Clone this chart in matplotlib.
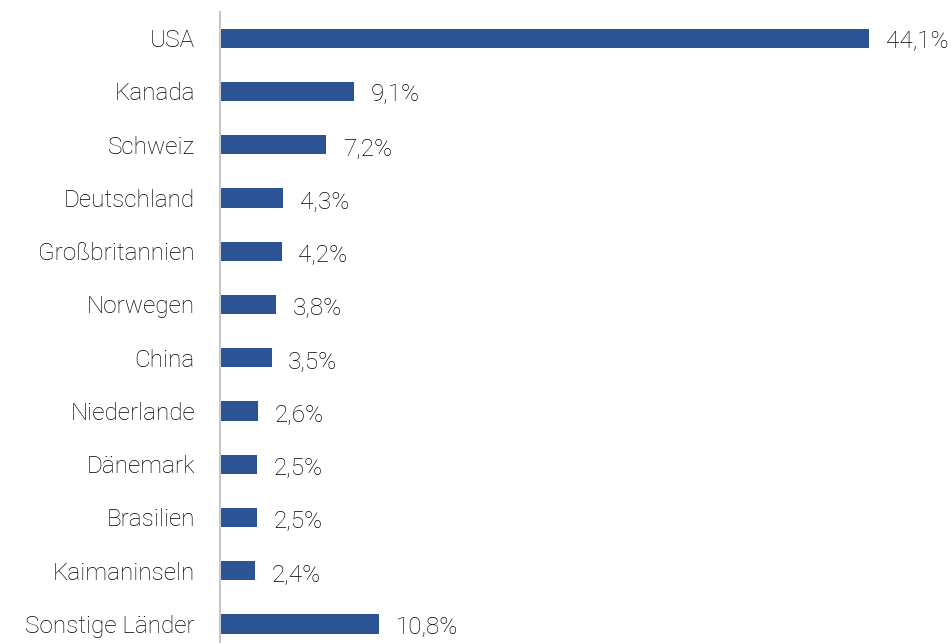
import matplotlib
matplotlib.use("Agg")
import matplotlib.pyplot as plt

plt.rcParams["font.family"] = ["Roboto", "DejaVu Sans"]

countries = ["USA", "Kanada", "Schweiz", "Deutschland", "Großbritannien", "Norwegen",
             "China", "Niederlande", "Dänemark", "Brasilien", "Kaimaninseln", "Sonstige Länder"]
shares = [44.1, 9.1, 7.2, 4.3, 4.2, 3.8, 3.5, 2.6, 2.5, 2.5, 2.4, 10.8]
labels = ["44,1%", "9,1%", "7,2%", "4,3%", "4,2%", "3,8%", "3,5%", "2,6%", "2,5%", "2,5%", "2,4%", "10,8%"]

fig = plt.figure(figsize=(9.51, 6.43), dpi=100)
ax = fig.add_axes([220 / 951, -7.6 / 643, 731 / 951, 639 / 643])

pos = list(range(len(countries)))
ax.barh(pos, shares, height=0.36, color="#2C5494")
for y, v, t in zip(pos, shares, labels):
    ax.annotate(t, (v, y), xytext=(12, -2.5), textcoords="offset points",
                va="center", ha="left", fontsize=17.5, fontweight="light", color="#000000")

ax.set_ylim(len(countries) - 0.5, -0.5)
ax.set_xlim(0, 731 / 14.72)
ax.set_yticks(pos)
ax.set_yticklabels(countries, fontsize=17.5, fontweight="light", color="#000000")
ax.tick_params(axis="y", length=0, pad=18)
ax.set_xticks([])
for s in ["top", "right", "bottom"]:
    ax.spines[s].set_visible(False)
ax.spines["left"].set_color("#c8c8c8")
ax.spines["left"].set_linewidth(1.5)

fig.savefig("out.png", dpi=100)
